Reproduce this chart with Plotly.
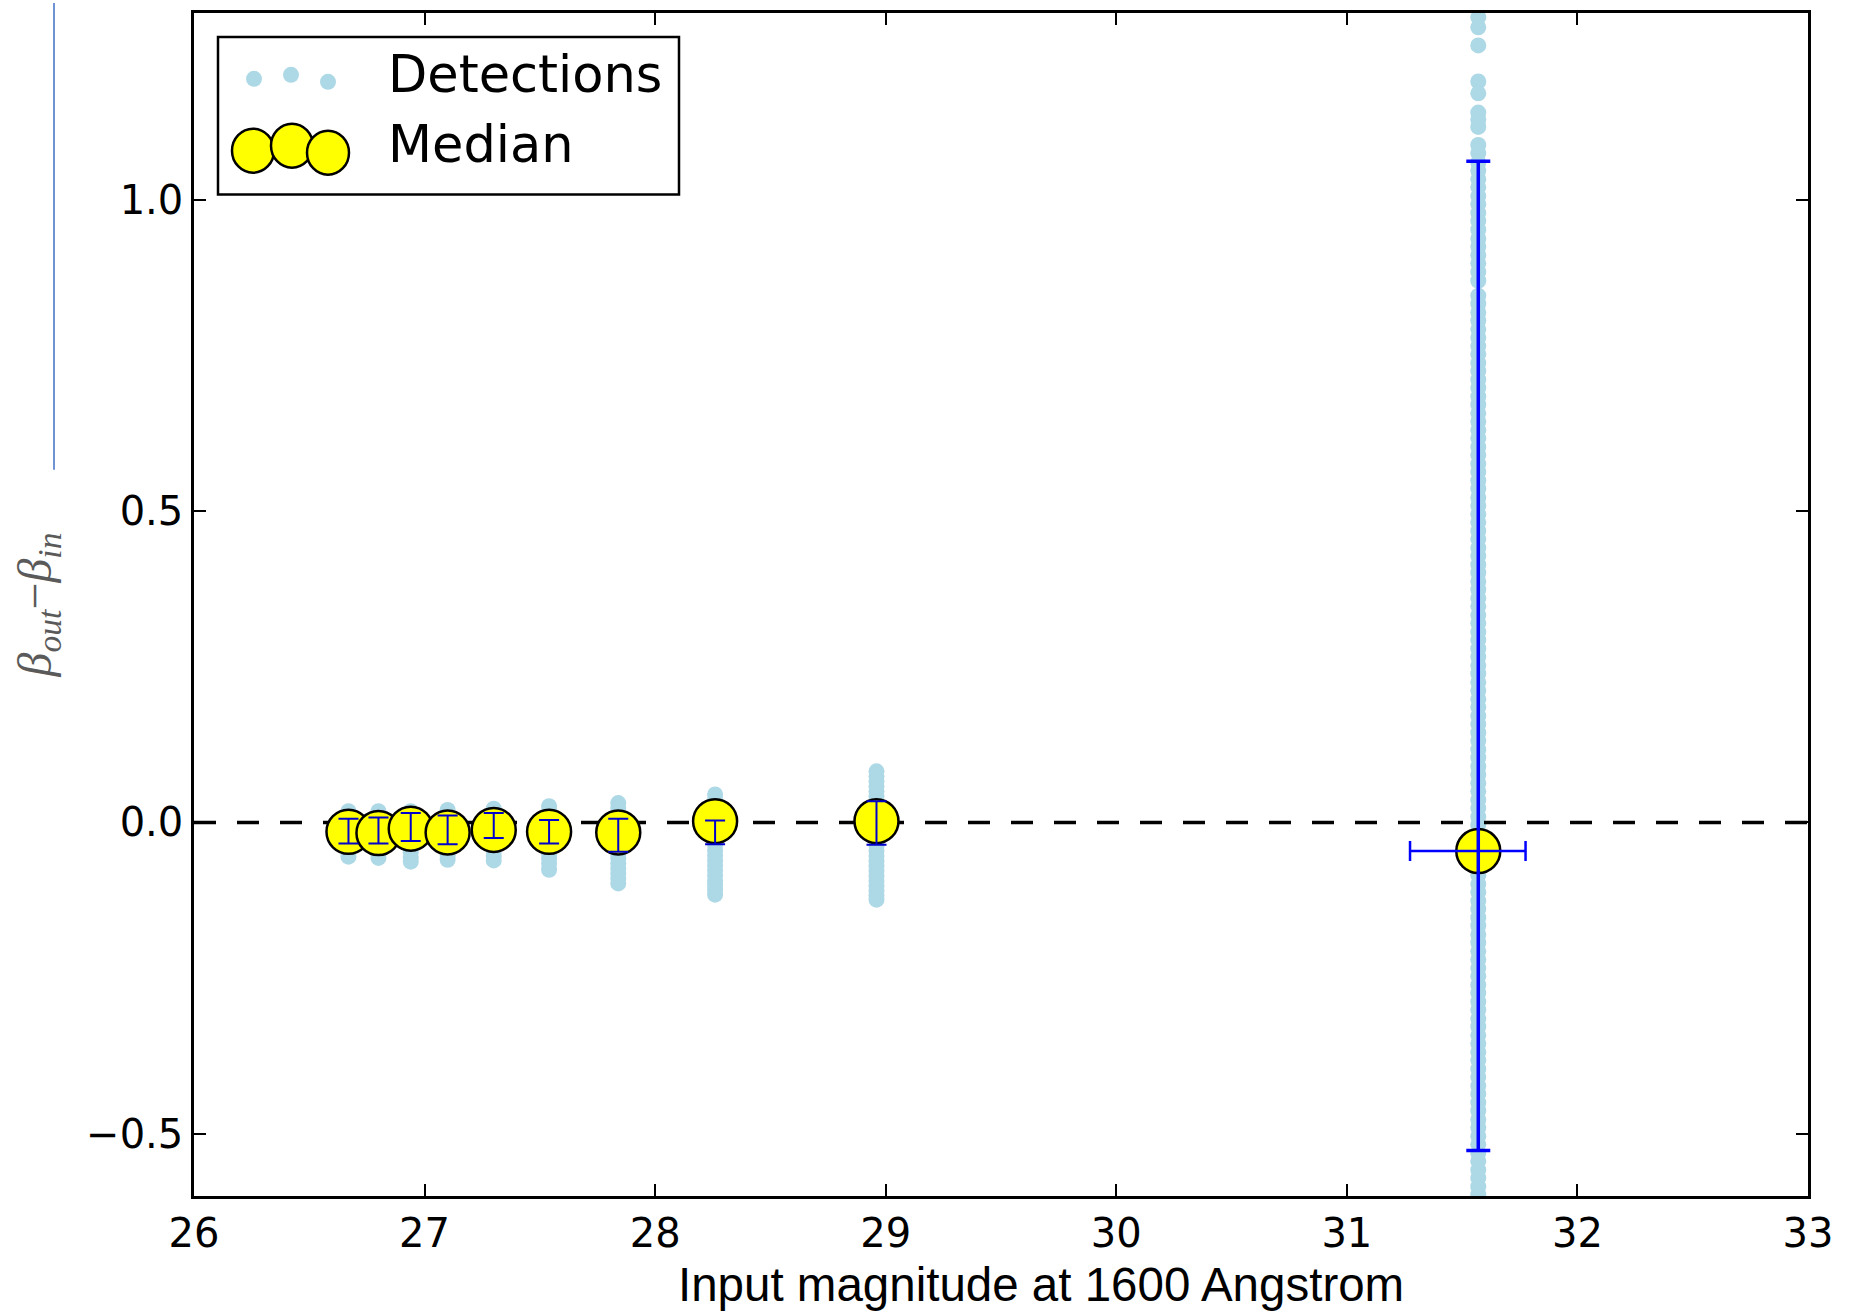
import plotly.graph_objects as go

# ---------------- data ----------------
magnitudes = [26.67, 26.80, 26.94, 27.10, 27.30, 27.54, 27.84, 28.26, 28.96, 31.57]
median_beta = [-0.015, -0.017, -0.010, -0.016, -0.012, -0.015, -0.016, 0.002, 0.002, -0.046]
err_y_plus = [0.021, 0.025, 0.025, 0.027, 0.027, 0.019, 0.022, 0.001, 0.032, 1.108]
err_y_minus = [0.019, 0.017, 0.020, 0.019, 0.013, 0.019, 0.031, 0.037, 0.038, 0.481]
err_x_plus = [0, 0, 0, 0, 0, 0, 0, 0, 0, 0.205]
err_x_minus = [0, 0, 0, 0, 0, 0, 0, 0, 0, 0.296]

det_col_1 = [0.018, 0.009, 0.002, -0.004, -0.011, -0.017, -0.024, -0.031, -0.038, -0.046, -0.055]
det_col_2 = [0.018, 0.010, 0.003, -0.006, -0.012, -0.019, -0.027, -0.035, -0.043, -0.050, -0.057]
det_col_3 = [0.018, 0.011, 0.004, -0.003, -0.010, -0.018, -0.026, -0.033, -0.041, -0.048, -0.056, -0.063]
det_col_4 = [0.020, 0.012, 0.005, -0.002, -0.010, -0.017, -0.025, -0.032, -0.039, -0.046, -0.053, -0.060]
det_col_5 = [0.022, 0.014, 0.006, -0.001, -0.009, -0.016, -0.024, -0.031, -0.038, -0.046, -0.054, -0.061]
det_col_6 = [0.026, 0.018, 0.011, 0.003, -0.005, -0.012, -0.020, -0.028, -0.035, -0.043, -0.051,
             -0.058, -0.066, -0.076]
det_col_7 = [0.031, 0.023, 0.015, 0.007, -0.001, -0.009, -0.017, -0.025, -0.033, -0.041, -0.049,
             -0.057, -0.066, -0.074, -0.082, -0.090, -0.098]
det_col_8 = [0.045, 0.037, 0.028, 0.020, 0.012, 0.004, -0.004, -0.012, -0.020, -0.028, -0.036,
             -0.045, -0.053, -0.061, -0.069, -0.077, -0.085, -0.093, -0.100, -0.108, -0.116]
det_col_9 = [0.082, 0.074, 0.066, 0.058, 0.050, 0.042, 0.034, 0.026, 0.018, 0.010, 0.002, -0.006,
             -0.014, -0.022, -0.030, -0.038, -0.046, -0.054, -0.062, -0.070, -0.078, -0.086,
             -0.094, -0.102, -0.110, -0.117, -0.124]
det_col_10 = [1.293, 1.277, 1.248, 1.190, 1.171, 1.140, 1.129, 1.117, 1.088, 1.075,
              1.060, 1.047, 1.033, 1.020, 1.006, 0.993, 0.979, 0.966, 0.952, 0.938, 0.925,
              0.911, 0.898, 0.884, 0.870, 0.846, 0.833, 0.819, 0.806, 0.792, 0.779, 0.765,
              0.752, 0.738, 0.725, 0.711, 0.698, 0.684, 0.671, 0.657, 0.644, 0.630, 0.617,
              0.603, 0.590, 0.576, 0.563, 0.549, 0.536, 0.522, 0.509, 0.495, 0.482, 0.468,
              0.455, 0.441, 0.428, 0.414, 0.401, 0.387, 0.374, 0.360, 0.347, 0.333, 0.320,
              0.306, 0.293, 0.279, 0.266, 0.252, 0.239, 0.225, 0.212, 0.198, 0.185, 0.171,
              0.158, 0.144, 0.131, 0.117, 0.104, 0.090, 0.077, 0.063, 0.050, 0.036, 0.023,
              0.009, -0.004, -0.018, -0.031, -0.045, -0.058, -0.072, -0.085, -0.099, -0.112,
              -0.126, -0.139, -0.153, -0.166, -0.180, -0.193, -0.207, -0.220, -0.234, -0.247,
              -0.261, -0.274, -0.288, -0.301, -0.315, -0.328, -0.342, -0.355, -0.369, -0.382,
              -0.396, -0.409, -0.423, -0.436, -0.450, -0.463, -0.477, -0.490, -0.504, -0.517,
              -0.531, -0.544, -0.558, -0.571, -0.585, -0.598, -0.612, -0.625, -0.639]
detection_columns = [det_col_1, det_col_2, det_col_3, det_col_4, det_col_5,
                     det_col_6, det_col_7, det_col_8, det_col_9, det_col_10]

x_range = [26, 33]
y_range = [-0.6, 1.3]
x_ticks = [26, 27, 28, 29, 30, 31, 32, 33]
y_ticks = [-0.5, 0.0, 0.5, 1.0]

# ---------------- layout geometry ----------------
W, H = 1863, 1314
ML, MR, MT, MB = 194, 55, 10, 118
PW, PH = W - ML - MR, H - MT - MB


def px(fx, fy):
    """figure pixel -> paper coords"""
    return (fx - ML) / PW, (H - MB - fy) / PH


det_x, det_y = [], []
for m, col in zip(magnitudes, detection_columns):
    det_x += [m] * len(col)
    det_y += col

fig = go.Figure()

fig.add_trace(go.Scatter(
    x=det_x, y=det_y, mode="markers",
    marker=dict(size=16, color="#add8e6", line=dict(width=0)),
    showlegend=False, hoverinfo="skip"))

fig.add_trace(go.Scatter(
    x=x_range, y=[0, 0], mode="lines",
    line=dict(color="black", width=3.5, dash="22px,21px"),
    showlegend=False, hoverinfo="skip"))

fig.add_trace(go.Scatter(
    x=magnitudes, y=median_beta, mode="markers",
    marker=dict(size=44, color="#ffff00", line=dict(color="black", width=2.5)),
    showlegend=False))

n = len(magnitudes) - 1
fig.add_trace(go.Scatter(
    x=magnitudes[:n], y=median_beta[:n], mode="markers",
    marker=dict(size=1, color="rgba(0,0,0,0)"),
    error_y=dict(type="data", symmetric=False, array=err_y_plus[:n], arrayminus=err_y_minus[:n],
                 color="#0000cc", thickness=2, width=10),
    showlegend=False, hoverinfo="skip"))

fig.add_trace(go.Scatter(
    x=magnitudes[n:], y=median_beta[n:], mode="markers",
    marker=dict(size=1, color="rgba(0,0,0,0)"),
    error_y=dict(type="data", symmetric=False, array=err_y_plus[n:], arrayminus=err_y_minus[n:],
                 color="#0000ff", thickness=3.5, width=12),
    error_x=dict(type="data", symmetric=False, array=err_x_plus[n:], arrayminus=err_x_minus[n:],
                 color="#0000ff", thickness=2.5, width=10),
    showlegend=False, hoverinfo="skip"))

axis_common = dict(showline=True, linecolor="black", linewidth=2.5, mirror="ticks",
                   ticks="inside", ticklen=12, tickwidth=1.5, tickcolor="black",
                   showgrid=False, zeroline=False,
                   tickfont=dict(family="DejaVu Sans", size=40, color="black"))

fig.update_xaxes(range=x_range, tickvals=x_ticks, ticktext=[str(t) for t in x_ticks], **axis_common)
fig.update_yaxes(range=y_range, tickvals=y_ticks, tickformat=".1f", **axis_common)

shapes = []
annotations = []

# legend box
x0, y0 = px(218, 34)
x1, y1 = px(679, 192)
shapes.append(dict(type="rect", xref="paper", yref="paper", x0=x0, y0=y1, x1=x1, y1=y0,
                   line=dict(color="black", width=2.5), fillcolor="white", layer="above"))
for (fx, fy) in [(254, 76), (291, 72), (328, 79)]:
    ax, ay = px(fx, fy)
    shapes.append(dict(type="circle", xref="paper", yref="paper", xsizemode="pixel",
                       ysizemode="pixel", xanchor=ax, yanchor=ay, x0=-8, x1=8, y0=-8, y1=8,
                       fillcolor="#add8e6", line=dict(width=0), layer="above"))
for (fx, fy) in [(253, 148), (292, 143), (328, 150)]:
    ax, ay = px(fx, fy)
    shapes.append(dict(type="circle", xref="paper", yref="paper", xsizemode="pixel",
                       ysizemode="pixel", xanchor=ax, yanchor=ay, x0=-21, x1=21, y0=-22, y1=22,
                       fillcolor="#ffff00", line=dict(color="black", width=2.5), layer="above"))
for label, (fx, fy) in [("Detections", (386, 72)), ("Median", (386, 142))]:
    ax, ay = px(fx, fy)
    annotations.append(dict(text=label, xref="paper", yref="paper", x=ax, y=ay,
                            xanchor="left", yanchor="middle", showarrow=False,
                            font=dict(family="DejaVu Sans", size=51, color="black")))

# axis titles
ax, ay = px(1041, 1285)
annotations.append(dict(text="Input magnitude at 1600 Angstrom", xref="paper", yref="paper",
                        x=ax, y=ay, xanchor="center", yanchor="middle", showarrow=False,
                        font=dict(family="Liberation Sans", size=47.5, color="black")))
ax, ay = px(38, 604)
annotations.append(dict(text="<i>β<sub>out</sub></i>−<i>β<sub>in</sub></i>", xref="paper", yref="paper",
                        x=ax, y=ay, xanchor="center", yanchor="middle", showarrow=False,
                        textangle=-90,
                        font=dict(family="Liberation Serif", size=48, color="#5a5a5a")))

# thin blue vertical line at the left edge of the picture
bx, by0 = px(54, 0)
_, by1 = px(54, 468)
shapes.append(dict(type="line", xref="paper", yref="paper", x0=bx, x1=bx, y0=by0, y1=by1,
                   line=dict(color="#3f6fc4", width=1.5)))

fig.update_layout(width=W, height=H, autosize=False,
                  margin=dict(l=ML, r=MR, t=MT, b=MB, pad=0),
                  paper_bgcolor="white", plot_bgcolor="white",
                  shapes=shapes, annotations=annotations, showlegend=False)

fig.write_html("out.html")
